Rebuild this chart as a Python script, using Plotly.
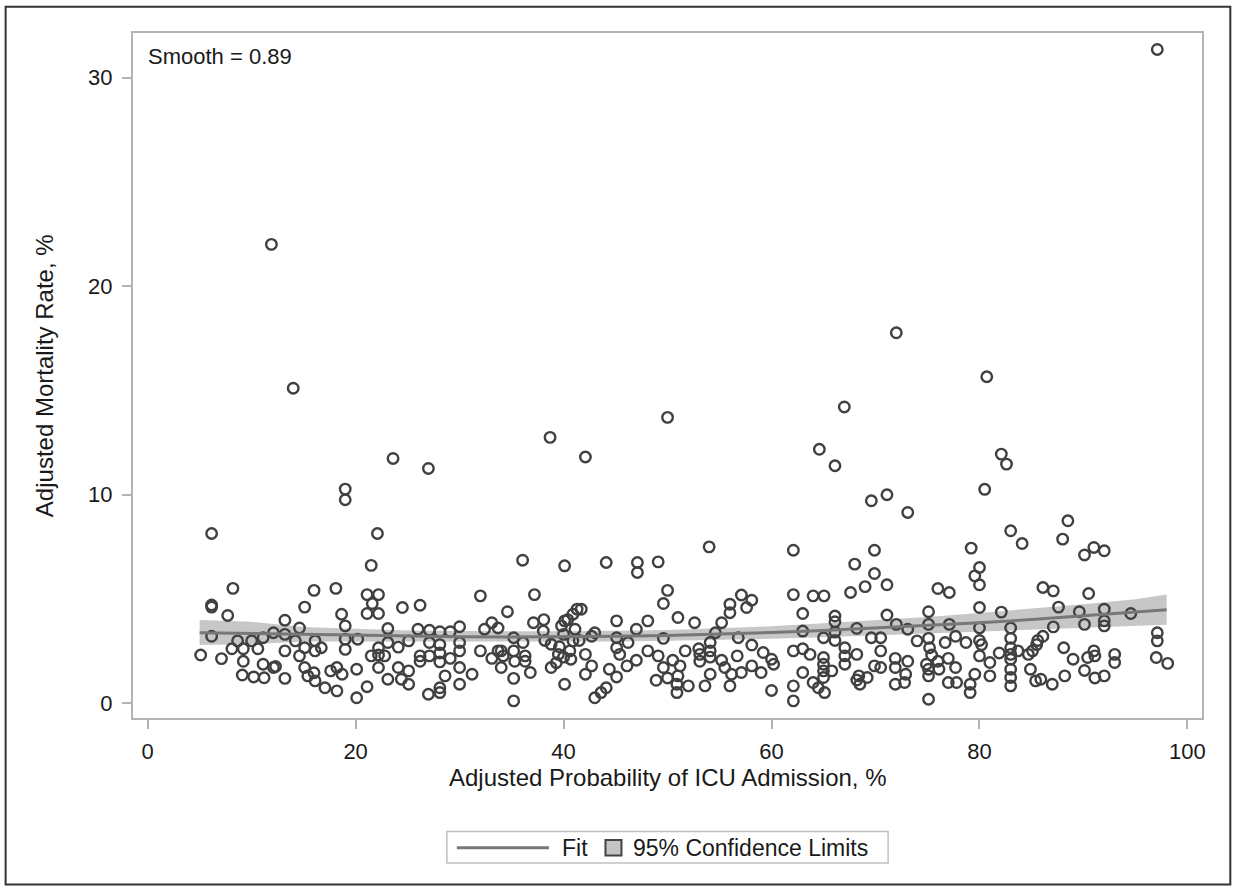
import plotly.graph_objects as go

# ---------------- data ----------------
x_vals = [
    # x < 16.5
    6.15, 8.2, 6.15, 6.15, 7.7, 16.0, 15.1, 13.2, 6.15, 14.6, 12.1, 13.2, 11.1, 10.0, 8.65, 8.1, 9.2, 10.6,
    5.1, 7.1, 9.2, 13.2, 14.2, 15.1, 14.6, 16.1, 11.1, 12.1, 12.3, 9.1, 10.2, 11.2, 13.2, 15.1, 15.4, 16.1, 16.0,
    11.9, 14.0,
    # 16 - 34
    23.6, 27.0, 19.0, 19.0, 22.1, 21.5, 18.1, 21.1, 22.2, 21.6, 21.1, 22.2, 24.5, 26.2, 32.0, 18.65, 19.0, 23.1,
    26.0, 27.1, 28.1, 29.1, 30.0, 32.4, 33.1, 16.1, 19.0, 20.2, 16.7, 19.0, 22.2, 23.1, 24.1, 25.1, 27.1, 28.1,
    30.0, 30.0, 32.0, 33.7, 21.5, 22.2, 22.8, 26.2, 27.1, 28.1, 26.2, 29.1, 28.1, 33.1, 30.0, 31.2, 28.6, 30.0,
    22.2, 24.1, 25.1, 23.1, 24.4, 25.1, 21.1, 20.1, 18.2, 17.6, 18.7, 17.05, 18.2, 20.1, 27.0, 28.1, 28.1, 34.0,
    # 33 - 51
    38.7, 42.1, 50.0, 36.06, 40.1, 44.1, 47.1, 47.1, 49.1, 50.0, 49.6, 37.2, 34.6, 37.1, 38.1, 40.1, 40.9, 41.3,
    41.7, 41.1, 40.0, 38.05, 38.2, 38.8, 35.2, 33.7, 36.1, 34.0, 34.2, 35.2, 36.3, 35.3, 36.3, 36.8, 35.2, 35.2,
    39.5, 40.0, 39.3, 38.8, 40.6, 40.9, 40.7, 42.1, 42.7, 42.1, 40.1, 42.7, 43.0, 45.1, 45.1, 45.1, 45.4, 46.2,
    44.4, 45.1, 46.1, 47.0, 47.0, 48.1, 48.1, 49.1, 49.6, 50.5, 49.6, 48.9, 50.0, 50.9, 50.9, 43.0, 43.6, 44.1,
    51.0, 39.8, 40.4, 41.5, 39.6,
    # 50 - 68.6
    64.6, 66.1, 54.0, 62.1, 68.0, 57.1, 58.1, 56.0, 57.6, 56.0, 62.1, 64.0, 65.05, 67.6, 52.6, 55.2, 54.6, 63.0,
    66.1, 66.1, 68.2, 63.0, 65.0, 66.1, 66.1, 56.8, 58.1, 59.2, 60.0, 60.2, 59.0, 51.7, 51.2, 51.0, 52.0, 53.0,
    53.1, 53.1, 54.1, 54.1, 54.1, 55.2, 54.1, 53.6, 55.5, 56.7, 56.15, 56.0, 57.1, 58.1, 60.0, 62.1, 63.0, 63.7,
    62.1, 62.1, 63.0, 64.0, 64.5, 65.0, 65.0, 65.0, 65.0, 65.1, 65.8, 67.05, 67.05, 67.05, 68.2, 68.2, 68.5,
    67.0,
    # 67.7 - 86
    82.1, 82.6, 69.6, 71.1, 73.1, 80.5, 83.0, 84.1, 69.9, 79.2, 69.9, 80.0, 79.55, 80.0, 69.0, 71.1, 76.0, 77.1,
    75.1, 80.0, 82.1, 71.1, 72.0, 73.1, 75.1, 77.1, 80.0, 83.0, 69.6, 70.5, 70.5, 74.0, 75.1, 75.2, 75.4, 76.7,
    77.7, 78.7, 80.0, 80.2, 83.0, 83.0, 83.0, 81.9, 83.7, 84.7, 85.5, 69.9, 70.5, 71.9, 71.9, 73.1, 72.9, 72.8,
    71.9, 74.9, 75.1, 75.1, 76.0, 76.1, 77.0, 77.7, 77.0, 77.8, 79.1, 79.1, 79.55, 80.0, 81.0, 81.0, 83.0, 83.0,
    83.0, 83.0, 84.9, 85.4, 75.1, 68.4, 69.2,
    72.0, 80.7,
    # 85 - 98
    88.5, 88.0, 90.1, 91.0, 92.0, 86.1, 87.1, 90.5, 87.6, 89.6, 92.0, 94.55, 90.1, 92.0, 92.0, 87.1, 85.6, 86.1,
    85.1, 88.1, 89.0, 90.4, 91.0, 91.1, 93.0, 93.0, 97.1, 97.1, 97.0, 98.1, 90.1, 91.1, 92.0, 88.2, 87.0, 85.9,
    97.1,
]
y_vals = [
    8.13, 5.5, 4.7, 4.6, 4.2, 5.4, 4.6, 3.97, 3.2, 3.6, 3.37, 3.29, 3.13, 2.98, 2.98, 2.6, 2.6, 2.6,
    2.3, 2.13, 2.0, 2.5, 2.98, 2.65, 2.26, 2.5, 1.86, 1.7, 1.75, 1.34, 1.25, 1.21, 1.18, 1.7, 1.3, 1.06, 1.45,
    22.0, 15.1,
    11.73, 11.25, 10.26, 9.75, 8.13, 6.6, 5.5, 5.2, 5.2, 4.77, 4.29, 4.29, 4.58, 4.69, 5.14, 4.26, 3.7, 3.57,
    3.54, 3.49, 3.42, 3.42, 3.66, 3.54, 3.85, 2.98, 3.06, 3.06, 2.65, 2.57, 2.65, 2.9, 2.68, 2.98, 2.9, 2.8,
    2.9, 2.5, 2.5, 2.5, 2.26, 2.3, 2.26, 2.26, 2.26, 2.4, 2.0, 2.14, 1.97, 2.14, 1.7, 1.38, 1.3, 0.9,
    1.7, 1.7, 1.54, 1.14, 1.14, 0.9, 0.78, 1.62, 1.7, 1.54, 1.38, 0.73, 0.58, 0.25, 0.42, 0.73, 0.5, 1.7,
    12.74, 11.8, 13.7, 6.85, 6.58, 6.74, 6.74, 6.26, 6.77, 5.4, 4.77, 5.2, 4.38, 3.85, 4.0, 3.94, 4.26, 4.5,
    4.5, 3.54, 3.29, 3.45, 3.0, 2.82, 3.13, 3.6, 2.9, 2.5, 2.26, 2.5, 2.26, 2.0, 2.0, 1.46, 1.18, 0.1,
    2.33, 2.2, 1.93, 1.7, 2.5, 2.98, 2.1, 2.33, 1.78, 1.38, 0.9, 3.2, 3.37, 3.94, 3.13, 2.65, 2.33, 2.9,
    1.62, 1.25, 1.78, 2.05, 3.54, 3.94, 2.5, 2.26, 3.1, 2.05, 1.7, 1.09, 1.2, 0.9, 0.5, 0.25, 0.5, 0.73,
    4.1, 3.7, 4.0, 3.0, 2.7,
    12.17, 11.38, 7.49, 7.33, 6.66, 5.18, 4.93, 4.74, 4.58, 4.33, 5.2, 5.14, 5.14, 5.3, 3.85, 3.85, 3.37, 4.29,
    4.17, 3.9, 3.58, 3.45, 3.13, 3.4, 3.0, 3.13, 2.78, 2.42, 2.1, 1.86, 1.46, 2.5, 1.78, 1.3, 0.82, 2.6,
    2.33, 2.0, 2.9, 2.5, 2.2, 2.05, 1.38, 0.82, 1.7, 2.26, 1.38, 0.82, 1.46, 1.78, 0.6, 2.5, 2.6, 2.33,
    0.82, 0.1, 1.46, 0.98, 0.73, 2.18, 1.86, 1.54, 1.22, 0.5, 1.54, 2.65, 2.26, 1.86, 2.33, 1.1, 0.9,
    14.2,
    11.94, 11.46, 9.7, 9.99, 9.14, 10.25, 8.26, 7.65, 7.33, 7.43, 6.21, 6.5, 6.1, 5.67, 5.58, 5.67, 5.49, 5.3,
    4.38, 4.58, 4.36, 4.22, 3.77, 3.54, 3.77, 3.77, 3.6, 3.6, 3.13, 3.13, 2.5, 2.98, 3.1, 2.65, 2.3, 2.9,
    3.2, 2.9, 3.0, 2.8, 3.1, 2.65, 2.33, 2.4, 2.5, 2.33, 2.8, 1.78, 1.7, 2.14, 1.7, 2.0, 1.38, 0.98,
    0.9, 1.86, 1.62, 1.3, 2.0, 1.62, 2.14, 1.7, 0.98, 0.98, 0.9, 0.5, 1.38, 2.26, 1.94, 1.3, 2.1, 1.62,
    1.22, 0.82, 1.62, 1.06, 0.18, 1.3, 1.22,
    17.76, 15.65,
    8.74, 7.86, 7.1, 7.46, 7.3, 5.54, 5.38, 5.25, 4.6, 4.38, 4.5, 4.29, 3.77, 3.94, 3.7, 3.65, 3.0, 3.2,
    2.5, 2.65, 2.1, 2.18, 2.5, 2.26, 2.33, 1.94, 3.37, 2.98, 2.18, 1.9, 1.56, 1.2, 1.3, 1.3, 0.9, 1.14,
    31.35,
]

fit_x = [5, 10, 15, 20, 25, 30, 35, 40, 45, 50, 55, 60, 65, 70, 75, 80, 85, 90, 95, 98]
fit_y = [3.37, 3.33, 3.28, 3.24, 3.20, 3.18, 3.17, 3.18, 3.20, 3.24, 3.30, 3.38, 3.48, 3.60, 3.72, 3.85,
         4.00, 4.17, 4.35, 4.47]
ci_lower = [2.78, 2.82, 2.95, 2.95, 2.93, 2.92, 2.92, 2.93, 2.95, 2.98, 3.02, 3.08, 3.15, 3.24, 3.32, 3.40,
            3.50, 3.60, 3.70, 3.75]
ci_upper = [3.98, 3.90, 3.65, 3.55, 3.48, 3.45, 3.43, 3.44, 3.46, 3.50, 3.58, 3.68, 3.82, 3.97, 4.13, 4.32,
            4.52, 4.74, 4.98, 5.20]

x_ticks = [0, 20, 40, 60, 80, 100]
y_ticks = [0, 10, 20, 30]

x_title = "Adjusted Probability of ICU Admission, %"
y_title = "Adjusted Mortality Rate, %"
smooth_text = "Smooth = 0.89"

# ---------------- layout geometry ----------------
W, H = 1238, 888
L, R, T, B = 133.3, 1201.7, 33.3, 717.7
PW, PH = R - L, B - T


def px(xp):
    return (xp - L) / PW


def py(yp):
    return (B - yp) / PH


FONT = "Liberation Sans, Arial, sans-serif"
TXT = "#1a1a1a"
FRAME = "#b4b4b4"

fig = go.Figure()

# confidence band
fig.add_trace(go.Scatter(x=fit_x, y=ci_upper, mode="lines", line=dict(width=0, color="rgba(0,0,0,0)"),
                         hoverinfo="skip", showlegend=False))
fig.add_trace(go.Scatter(x=fit_x, y=ci_lower, mode="lines", line=dict(width=0, color="rgba(0,0,0,0)"),
                         fill="tonexty", fillcolor="rgba(175,175,175,0.7)", name="95% Confidence Limits",
                         showlegend=False))
# scatter
fig.add_trace(go.Scatter(x=x_vals, y=y_vals, mode="markers",
                         marker=dict(symbol="circle-open", size=10.5, color="#404040",
                                     line=dict(width=2.4, color="#404040")),
                         showlegend=False, name="Data"))
# fit
fig.add_trace(go.Scatter(x=fit_x, y=fit_y, mode="lines", line=dict(color="#777777", width=3),
                         name="Fit", showlegend=False))

shapes = [
    # outer border
    dict(type="rect", xref="paper", yref="paper", x0=px(6), x1=px(1230), y0=py(884), y1=py(7),
         line=dict(color="#333333", width=2), fillcolor="rgba(0,0,0,0)", layer="below"),
    # legend box
    dict(type="rect", xref="paper", yref="paper", x0=px(447), x1=px(888), y0=py(862.5), y1=py(831),
         line=dict(color="#c0c0c0", width=1.5), fillcolor="white"),
    # legend line
    dict(type="line", xref="paper", yref="paper", x0=px(457), x1=px(549), y0=py(847.3), y1=py(847.3),
         line=dict(color="#777777", width=3)),
    # legend square
    dict(type="rect", xref="paper", yref="paper", x0=px(605.5), x1=px(621.5), y0=py(855), y1=py(839.5),
         line=dict(color="#444444", width=2), fillcolor="#c4c4c4"),
]

annotations = [
    dict(text=smooth_text, xref="paper", yref="paper", x=px(146), y=py(57), xanchor="left", yanchor="middle",
         showarrow=False, font=dict(family=FONT, size=22, color=TXT)),
    dict(text=x_title, xref="paper", yref="paper", x=px(667.5), y=py(777), xanchor="center", yanchor="middle",
         showarrow=False, font=dict(family=FONT, size=24, color=TXT)),
    dict(text=y_title, xref="paper", yref="paper", x=px(45), y=py(375.5), xanchor="center", yanchor="middle",
         textangle=-90, showarrow=False, font=dict(family=FONT, size=24, color=TXT)),
    dict(text="Fit", xref="paper", yref="paper", x=px(560), y=py(847.5), xanchor="left", yanchor="middle",
         showarrow=False, font=dict(family=FONT, size=23, color=TXT)),
    dict(text="95% Confidence Limits", xref="paper", yref="paper", x=px(631), y=py(847.5), xanchor="left",
         yanchor="middle", showarrow=False, font=dict(family=FONT, size=23, color=TXT)),
]

axis_common = dict(showgrid=False, zeroline=False, showline=True, linecolor=FRAME, linewidth=2, mirror=True,
                   ticks="outside", ticklen=9, tickwidth=2, tickcolor=FRAME,
                   tickfont=dict(family=FONT, size=22, color=TXT))

fig.update_layout(
    width=W, height=H,
    margin=dict(l=L, r=W - R, t=T, b=H - B, autoexpand=False),
    paper_bgcolor="white", plot_bgcolor="white",
    xaxis=dict(range=[-1.41, 101.4], tickvals=x_ticks, ticklabelstandoff=4, **axis_common),
    yaxis=dict(range=[-0.72, 32.14], tickvals=y_ticks, ticklabelstandoff=5, **axis_common),
    shapes=shapes, annotations=annotations, showlegend=False,
)

fig.write_html("out.html", config={"displayModeBar": False},
               post_script="document.body.style.margin='0';document.body.style.padding='0';")
